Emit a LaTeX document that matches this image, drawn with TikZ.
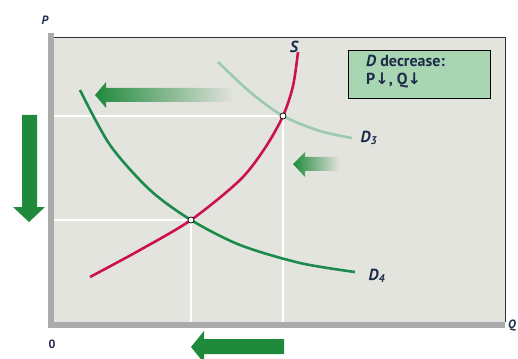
\documentclass[tikz,border=0pt]{standalone}
\usepackage{fontspec}
\setmainfont{PT Sans}
\newfontfamily\symfont{DejaVu Sans}
\usetikzlibrary{fadings}
\definecolor{panel}{HTML}{E4E4DF}
\definecolor{axisgray}{HTML}{ABABAB}
\definecolor{supred}{HTML}{CC1150}
\definecolor{demgreen}{HTML}{1C8A4C}
\definecolor{oldgreen}{HTML}{9CC9B2}
\definecolor{arrgreen}{HTML}{1F8A3C}
\definecolor{boxgreen}{HTML}{A9D6B2}
\definecolor{navy}{HTML}{1E2A4A}
\begin{document}
\begin{tikzpicture}[x=1pt,y=-1pt,
curve/.style={line width=2.6pt},
guide/.style={white, line width=1.2pt},
eqpt/.style={draw=black, fill=white, circle, inner sep=0pt, minimum size=6pt, line width=0.7pt},
label/.style={font=\fontsize{16}{18}\selectfont\bfseries\itshape, text=navy},
axlabel/.style={font=\fontsize{12}{14}\selectfont\bfseries, text=navy}
]
\useasboundingbox (0,0) rectangle (518,358);
\fill[white] (0,0) rectangle (518,358);
% panel and axes
\fill[panel] (54,37) rectangle (505,322);
\draw[black!80, line width=0.9pt] (54,37) -- (505,37) -- (505,322);
\fill[axisgray] (48,33) rectangle (54,328);
\fill[axisgray] (48,322) rectangle (505,328);
\node[axlabel, font=\fontsize{12}{14}\selectfont\bfseries\itshape] (plab) at (45,20) {P};
\node[axlabel, font=\fontsize{12}{14}\selectfont\bfseries\itshape] (qlab) at (512,326) {Q};
\node[axlabel] (zero) at (52,344) {0};
% equilibrium points
\coordinate (e1) at (283,116);
\coordinate (e2) at (191,220);
\draw[guide] (54,116) -- (e1) -- (283,322);
\draw[guide] (54,220) -- (e2) -- (191,322);
% shift arrows
\fill[arrgreen, path fading=east] (95,95) -- (106,82) -- (106,88) -- (234,88) -- (234,102) -- (106,102) -- (106,108) -- cycle;
\fill[arrgreen, path fading=east] (293,164) -- (305,152) -- (305,157) -- (340,157) -- (340,171) -- (305,171) -- (305,177) -- cycle;
\fill[arrgreen] (22,115) -- (37,115) -- (37,207) -- (45,207) -- (29,222) -- (13,207) -- (22,207) -- cycle;
\fill[arrgreen] (191,347) -- (204,331) -- (204,339) -- (284,339) -- (284,354) -- (204,354) -- (204,363) -- cycle;
% curves
\draw[curve, oldgreen] plot[smooth] coordinates {(218,62) (250,92) (e1) (320,131) (352,138)};
\draw[curve, demgreen] plot[smooth] coordinates {(80,90) (110,145) (150,190) (e2) (240,245) (300,263) (355,272)};
\draw[curve, supred] plot[smooth] coordinates {(90,277) (140,250) (e2) (240,180) (265,148) (e1) (293,86) (298,52)};
\node[eqpt] (pt1) at (e1) {};
\node[eqpt] (pt2) at (e2) {};
\node[label] (slab) at (294,47) {S};
\node[label] (d3lab) at (369,138) {D\textsubscript{3}};
\node[label] (d4lab) at (377,276) {D\textsubscript{4}};
% box
\node[draw=black, line width=0.8pt, fill=boxgreen, minimum width=142pt, minimum height=48pt, inner sep=0pt, anchor=north west] (note) at (348,50) {};
\node[text=navy, font=\fontsize{16}{18}\selectfont\bfseries, align=left, inner sep=0pt, anchor=north west] (notetxt) at (366,55) {\textit{D} decrease:\\P{\symfont↓}, Q{\symfont↓}};
\end{tikzpicture}
\end{document}
